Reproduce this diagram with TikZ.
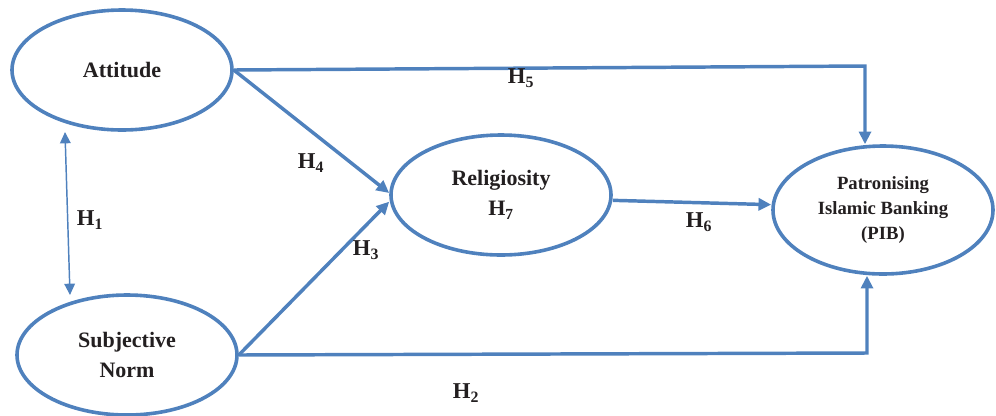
\documentclass[tikz,border=0pt]{standalone}
\usepackage{fontspec}
\setmainfont{Liberation Serif}
\usetikzlibrary{shapes.geometric,arrows.meta}
\definecolor{lineblue}{HTML}{4F81BD}
\definecolor{txt}{HTML}{231F20}
\tikzset{
  oval/.style={ellipse, draw=lineblue, line width=2.7pt, inner sep=0pt,
    minimum width=165pt, minimum height=90pt, align=center,
    font=\fontsize{16.5}{22.5}\selectfont\bfseries, text=txt},
  link/.style={draw=lineblue, line width=2.6pt,
    -{Triangle[length=9.5pt,width=9pt]}},
  thinlink/.style={draw=lineblue, line width=1.1pt,
    {Triangle[length=8.5pt,width=8pt]}-{Triangle[length=8.5pt,width=8pt]}},
  hlab/.style={font=\fontsize{17}{20}\selectfont\bfseries, text=txt, inner sep=0pt}
}
\begin{document}
\begin{tikzpicture}[x=0.75pt,y=-0.75pt]
\useasboundingbox (0,0) rectangle (996,415);
\node[oval] (att) at (122,70) {Attitude};
\node[oval] (sn) at (127,355) {Subjective\\Norm};
\node[oval] (rel) at (501,195) {Religiosity\\H\textsubscript{7}};
\node[oval, minimum height=96pt, font=\fontsize{14}{18.75}\selectfont\bfseries] (pib) at (883,210) {Patronising\\Islamic Banking\\(PIB)};

\coordinate (h1a) at (65,132);
\coordinate (h1b) at (70,295);
\coordinate (c5) at (865,66);
\coordinate (c2) at (867,353);

\draw[thinlink] (h1a) -- (h1b);
\draw[link] (att.east) -- (c5) -- (c5 |- pib.north);
\draw[link] (att.east) -- ([yshift=1.5pt]rel.west);
\draw[link] (sn.east) -- ([yshift=-5pt]rel.west);
\draw[link] ([yshift=-4pt]rel.east) -- ([yshift=4pt]pib.west);
\draw[link] (sn.east) -- (c2) -- (c2 |- pib.south);

\node[hlab] (l1) at (90,220) {H\textsubscript{1}};
\node[hlab] (l2) at (466,393) {H\textsubscript{2}};
\node[hlab] (l3) at (366,250) {H\textsubscript{3}};
\node[hlab] (l4) at (311,163) {H\textsubscript{4}};
\node[hlab] (l5) at (521,78) {H\textsubscript{5}};
\node[hlab] (l6) at (699,222) {H\textsubscript{6}};
\end{tikzpicture}
\end{document}
